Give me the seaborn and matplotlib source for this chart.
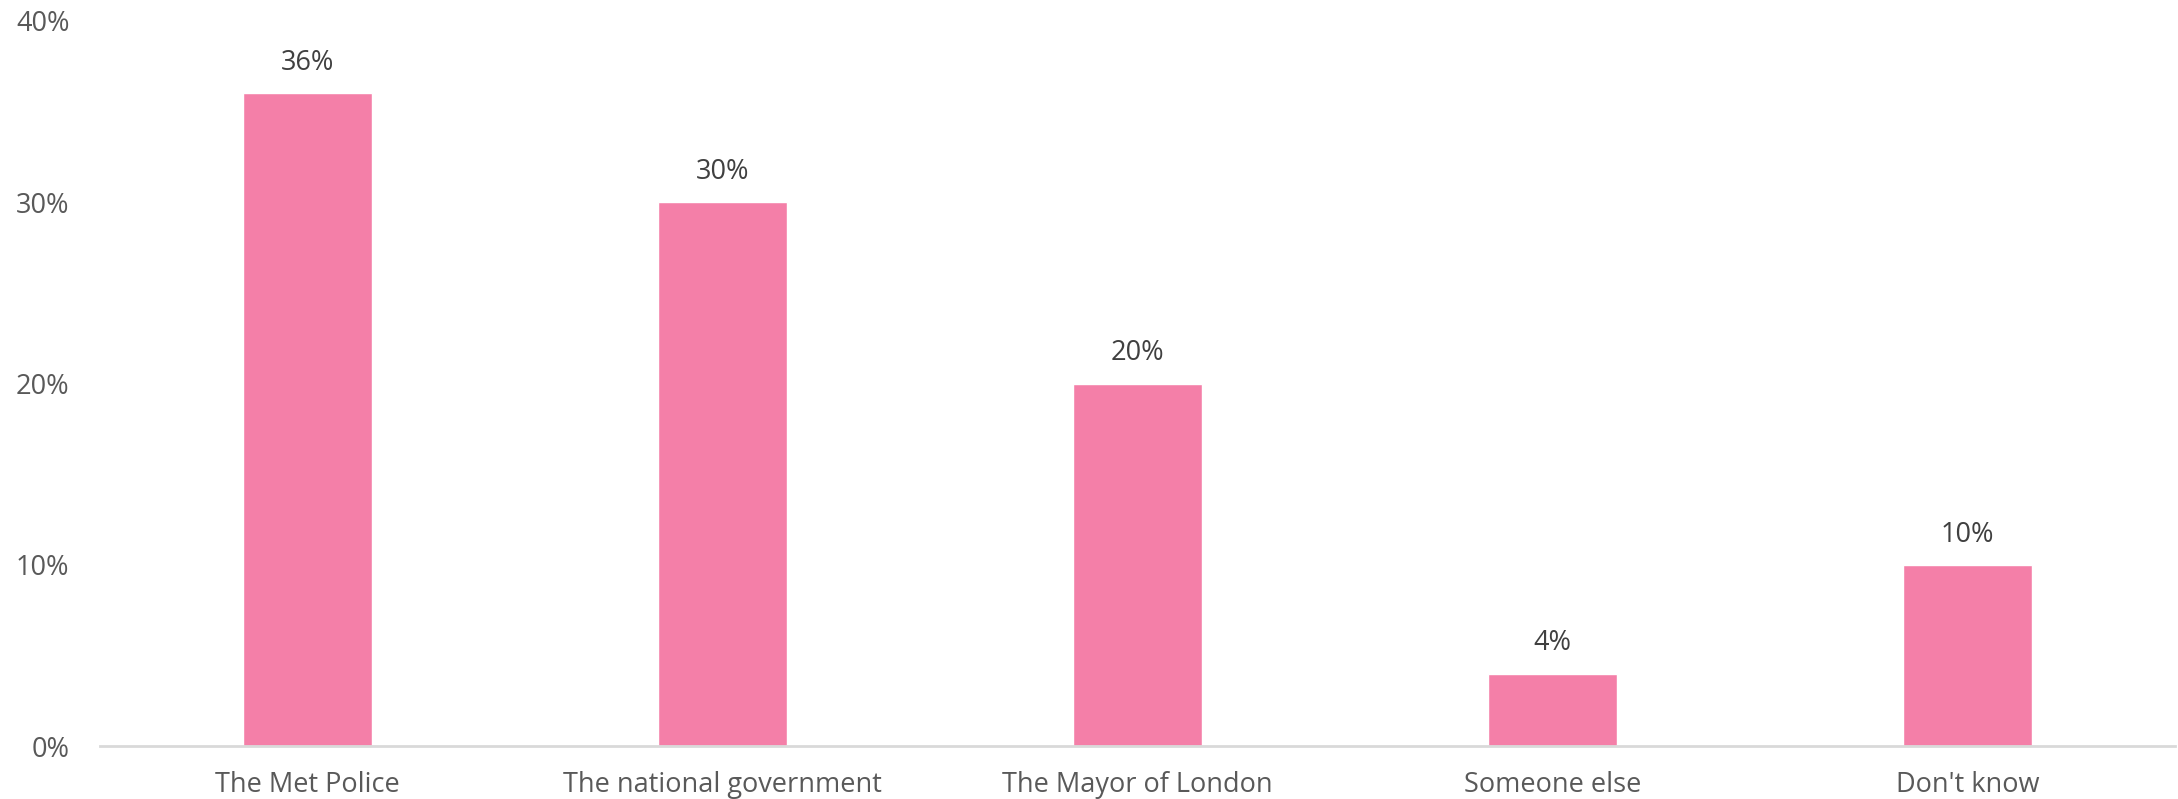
import matplotlib
matplotlib.use("Agg")
import matplotlib.pyplot as plt
import seaborn as sns
import pandas as pd
from matplotlib.ticker import PercentFormatter

# Data
categories = ["The Met Police", "The national government", "The Mayor of London",
              "Someone else", "Don't know"]
shares = [36, 30, 20, 4, 10]
y_ticks = [0, 10, 20, 30, 40]

BAR_COLOR = "#F47FA8"
TEXT_COLOR = "#595959"
AXIS_COLOR = "#D9D9D9"

sns.set_theme(style="white")
plt.rcParams["font.family"] = ["Open Sans", "DejaVu Sans"]

df = pd.DataFrame({"who": categories, "share": shares})

fig = plt.figure(figsize=(21.78, 7.99), dpi=100)
ax = fig.add_axes([0.0459, 0.066, 0.9527, 0.908])

sns.barplot(data=df, x="who", y="share", color=BAR_COLOR, width=0.31,
            saturation=1, ax=ax)

# value labels above each bar
for i, v in enumerate(shares):
    ax.text(i, v + 0.9, f"{v}%", ha="center", va="bottom",
            fontsize=19.5, color="#404040")

ax.set_ylim(0, 40)
ax.set_xlim(-0.5, len(categories) - 0.5)
ax.set_yticks(y_ticks)
ax.yaxis.set_major_formatter(PercentFormatter(decimals=0))
ax.set_xlabel("")
ax.set_ylabel("")
ax.tick_params(axis="y", length=0, pad=22, labelsize=19.5, labelcolor=TEXT_COLOR)
ax.tick_params(axis="x", length=0, pad=18, labelsize=19.5, labelcolor=TEXT_COLOR)

for side in ["top", "right", "left"]:
    ax.spines[side].set_visible(False)
ax.spines["bottom"].set_color(AXIS_COLOR)
ax.spines["bottom"].set_linewidth(2)

fig.savefig("out.png", dpi=100)
